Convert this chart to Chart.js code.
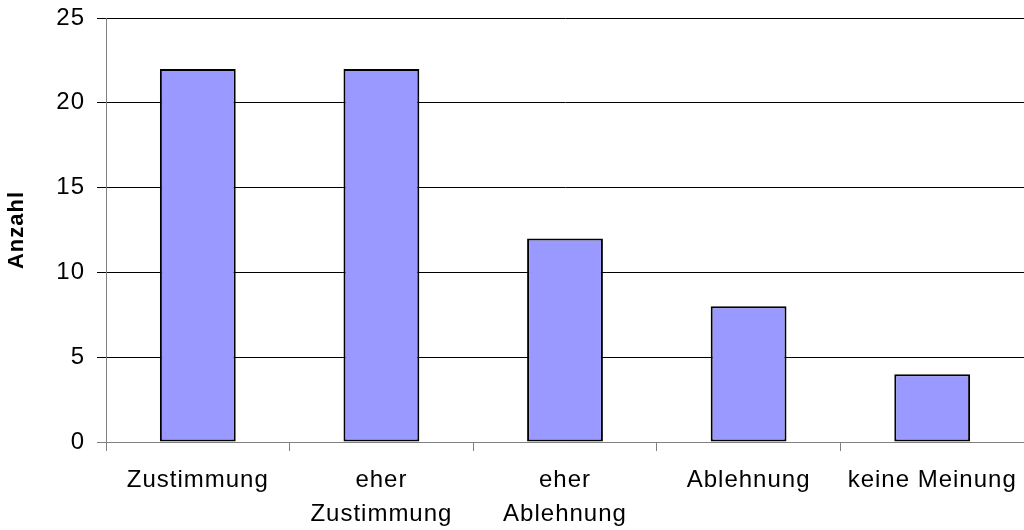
<!DOCTYPE html>
<html>
<head>
<meta charset="utf-8">
<script src="https://cdn.jsdelivr.net/npm/chart.js@4"></script>
<style>
  html, body { margin: 0; padding: 0; background: #fff; overflow: hidden; }
  canvas { display: block; }
</style>
</head>
<body>
<canvas id="surveyChart" width="1024" height="530"></canvas>
<script>
// Antworten der Umfrage
const categories = ['Zustimmung', ['eher', 'Zustimmung'], ['eher', 'Ablehnung'], 'Ablehnung', 'keine Meinung'];
const counts = [22, 22, 12, 8, 4];
const yTicks = [0, 5, 10, 15, 20, 25];

const AXIS_GREY = '#808080';

// canvas letter spacing gets reset on resize, so set it before layout and draw
const spacingPlugin = {
    id: 'spacing',
    beforeUpdate(chart) { chart.ctx.letterSpacing = '1px'; },
    beforeDraw(chart) { chart.ctx.letterSpacing = '1px'; }
};

Chart.defaults.font.family = '"Liberation Sans", Arial, sans-serif';
Chart.defaults.color = '#000';

const ctx = document.getElementById('surveyChart').getContext('2d');

new Chart(ctx, {
    type: 'bar',
    data: {
        labels: categories,
        datasets: [{
            label: 'Anzahl',
            data: counts,
            backgroundColor: '#9999ff',
            borderColor: '#000',
            borderWidth: 2,
            borderSkipped: false,
            barPercentage: 0.413,
            categoryPercentage: 1.0
        }]
    },
    options: {
        responsive: false,
        animation: false,
        layout: { padding: { top: 18, right: 0, left: 0, bottom: 0 } },
        plugins: {
            legend: { display: false },
            tooltip: { enabled: false }
        },
        scales: {
            x: {
                offset: true,
                grid: {
                    offset: true,
                    drawOnChartArea: false,
                    drawTicks: true,
                    tickLength: 9,
                    color: AXIS_GREY
                },
                border: { color: AXIS_GREY, width: 1 },
                ticks: {
                    maxRotation: 0,
                    autoSkip: false,
                    padding: 13,
                    font: { size: 24, lineHeight: 1.4 }
                },
                afterFit(scale) {
                    scale.height = 88;
                    scale.paddingLeft = 0;
                    scale.paddingRight = 0;
                }
            },
            y: {
                min: 0,
                max: 25,
                afterBuildTicks(scale) {
                    scale.ticks = yTicks.map(v => ({ value: v }));
                },
                grid: {
                    color: c => (c.tick && c.tick.value === 0 ? AXIS_GREY : '#000'),
                    lineWidth: 1,
                    tickLength: 9
                },
                border: { color: AXIS_GREY, width: 1 },
                ticks: {
                    padding: 12,
                    font: { size: 24 }
                },
                title: {
                    display: true,
                    text: 'Anzahl',
                    padding: { top: 4, bottom: 0 },
                    font: { size: 22, weight: 'bold', lineHeight: 1.2 }
                },
                afterFit(scale) {
                    scale.width = 106;
                    scale.paddingTop = 0;
                    scale.paddingBottom = 0;
                }
            }
        }
    },
    plugins: [spacingPlugin]
});
</script>
</body>
</html>
